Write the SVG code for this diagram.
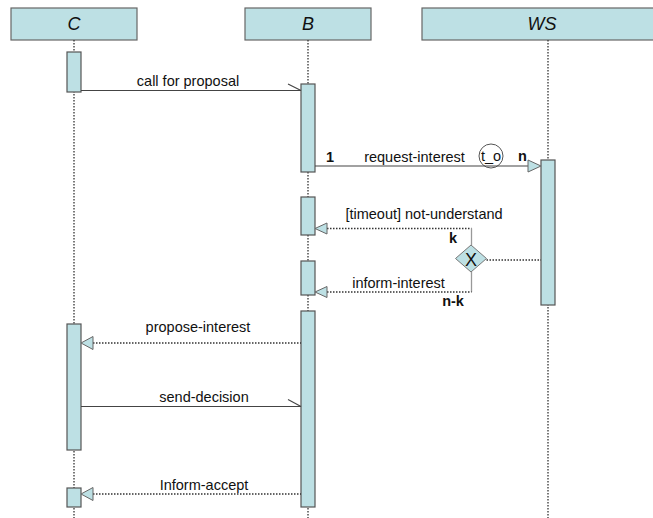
<svg xmlns="http://www.w3.org/2000/svg" width="653" height="518" viewBox="0 0 653 518">
<style>
  .hdr { fill: #bde0e4; stroke: #666; stroke-width: 1.2; }
  .bar { fill: #bde0e4; stroke: #555; stroke-width: 1.2; }
  .life { stroke: #333; stroke-width: 1.3; stroke-dasharray: 1.5 1.5; fill: none; }
  .msg { stroke: #444; stroke-width: 1.1; fill: none; }
  .ret { stroke: #333; stroke-width: 1.3; stroke-dasharray: 1.5 1.5; fill: none; }
  .vert { stroke: #999; stroke-width: 1.3; fill: none; }
  .head { fill: #bde0e4; stroke: #666; stroke-width: 1; }
  .t { font-family: "Liberation Sans", Arial, sans-serif; font-size: 14.5px; fill: #111; }
  .b { font-weight: bold; }
  .h { font-family: "Liberation Sans", Arial, sans-serif; font-size: 18px; font-style: italic; fill: #111; text-anchor: middle; }
  .c { text-anchor: middle; }
</style>
<rect width="653" height="518" fill="#fff"/>

<g id="lifeline-C">
  <rect class="hdr" x="11" y="8" width="126" height="32"/>
  <text class="h" x="74" y="30">C</text>
  <line class="life" x1="74" y1="40" x2="74" y2="518"/>
  <rect class="bar" x="67" y="52" width="14" height="40"/>
  <rect class="bar" x="67" y="324" width="14" height="126"/>
  <rect class="bar" x="67" y="488" width="14" height="19"/>
</g>

<g id="lifeline-B">
  <rect class="hdr" x="245" y="8" width="126" height="32"/>
  <text class="h" x="308" y="30">B</text>
  <line class="life" x1="308" y1="40" x2="308" y2="518"/>
  <rect class="bar" x="301" y="84" width="14" height="88"/>
  <rect class="bar" x="301" y="197" width="14" height="38"/>
  <rect class="bar" x="301" y="261" width="14" height="34"/>
  <rect class="bar" x="301" y="311" width="14" height="196"/>
</g>

<g id="lifeline-WS">
  <rect class="hdr" x="422" y="8" width="240" height="32"/>
  <text class="h" x="542" y="30">WS</text>
  <line class="life" x1="548" y1="40" x2="548" y2="518"/>
  <rect class="bar" x="541" y="160" width="14" height="145"/>
</g>

<g id="timer-t_o">
  <circle cx="491" cy="156" r="12" fill="#fff" stroke="#555" stroke-width="1"/>
  <text class="t c" x="491" y="160.5">t_o</text>
</g>

<g id="xor-split">
  <polygon points="471,245 486.5,258.5 471,272 455.5,258.5" fill="#bde0e4" stroke="#777" stroke-width="1"/>
  <text class="t c" x="471" y="265.5" style="font-size:18px">X</text>
</g>

<g id="connectors">
  <!-- call for proposal -->
  <line class="msg" x1="81" y1="90.5" x2="301" y2="90.5"/>
  <line class="msg" x1="288" y1="84" x2="301" y2="90.5"/>
  <text class="t c" x="188" y="86">call for proposal</text>

  <!-- request-interest -->
  <line class="msg" x1="315" y1="166" x2="528" y2="166"/>
  <polygon class="head" points="528,160 541,166 528,172"/>
  <text class="t b" x="326" y="161.5">1</text>
  <text class="t c" x="414.5" y="161.5">request-interest</text>
  <text class="t b" x="518" y="161">n</text>

  <!-- not-understand -->
  <line class="ret" x1="327" y1="228.5" x2="471.5" y2="228.5"/>
  <line class="vert" x1="471.5" y1="228.5" x2="471.5" y2="245"/>
  <polygon class="head" points="327,223 315,228.5 327,234"/>
  <text class="t c" x="424" y="219">[timeout] not-understand</text>
  <text class="t b" x="449" y="243">k</text>

  <!-- from WS to xor -->
  <line class="ret" x1="486.5" y1="260" x2="541" y2="260"/>

  <!-- inform-interest -->
  <line class="vert" x1="471.5" y1="272" x2="471.5" y2="292"/>
  <line class="ret" x1="327" y1="292" x2="471.5" y2="292"/>
  <polygon class="head" points="327,286.5 315,292 327,297.5"/>
  <text class="t c" x="398.5" y="288">inform-interest</text>
  <text class="t b c" x="453" y="306">n-k</text>

  <!-- propose-interest -->
  <line class="ret" x1="93" y1="343" x2="301" y2="343"/>
  <polygon class="head" points="93,336.5 81,343 93,349.5"/>
  <text class="t c" x="198" y="331.5">propose-interest</text>

  <!-- send-decision -->
  <line class="msg" x1="81" y1="406.5" x2="301" y2="406.5"/>
  <line class="msg" x1="288" y1="399.5" x2="301" y2="406.5"/>
  <text class="t c" x="204" y="401.5">send-decision</text>

  <!-- Inform-accept -->
  <line class="ret" x1="93" y1="494" x2="301" y2="494"/>
  <polygon class="head" points="93,487.5 81,494 93,500.5"/>
  <text class="t c" x="204" y="490">Inform-accept</text>
</g>
</svg>
